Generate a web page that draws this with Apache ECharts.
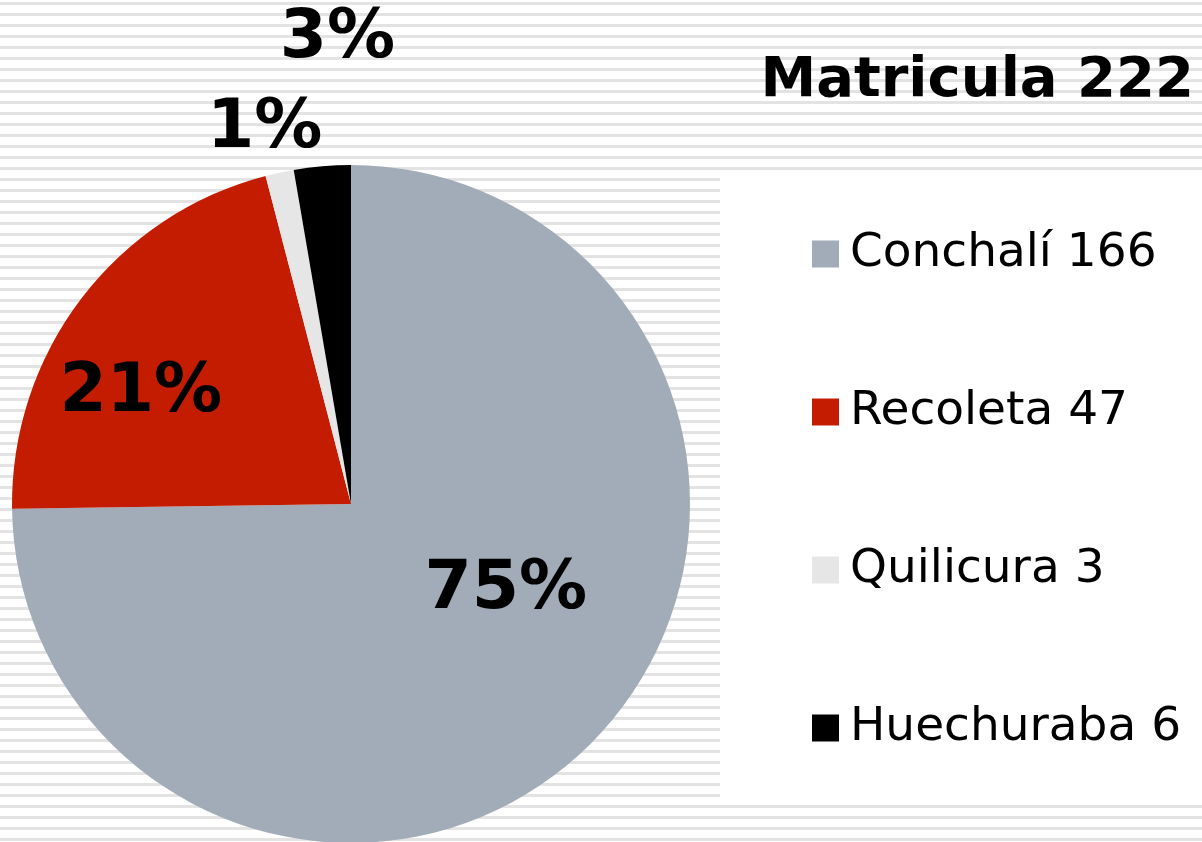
<!DOCTYPE html>
<html>
<head>
<meta charset="utf-8">
<title>Matricula 222</title>
<script src="https://cdn.jsdelivr.net/npm/echarts@6/dist/echarts.min.js"></script>
<style>
  html, body { margin: 0; padding: 0; background: #fff; }
  /* striped slide background */
  #chart {
    width: 1202px;
    height: 842px;
    background: repeating-linear-gradient(to bottom,
      #fff 0px, #fff 2px, #e3e3e3 2px, #e3e3e3 5px, #fff 5px, #fff 11px);
  }
</style>
</head>
<body>
<div id="chart"></div>
<script>
// ===== Data =====
const comunas  = ['Conchalí', 'Recoleta', 'Quilicura', 'Huechuraba'];
const alumnos  = [166, 47, 3, 6];
const colores  = ['#a1acb8', '#c41c00', '#e6e6e6', '#000000'];
const titulo   = 'Matricula 222';

// label nudges, to sit where the original put them
const labelOffsets = [[32, -35], [-73, -6], [-50, -206], [1, -293]];

const FONT = '"DejaVu Sans", Verdana, sans-serif';

const chart = echarts.init(document.getElementById('chart'), null, { renderer: 'canvas' });

const pieData = comunas.map((name, i) => ({
  name,
  value: alumnos[i],
  itemStyle: { color: colores[i] },
  label: { offset: labelOffsets[i] }
}));

chart.setOption({
  backgroundColor: 'transparent',
  animation: false,
  // white panel behind the legend
  graphic: [{
    type: 'rect',
    z: -10,
    shape: { x: 720, y: 174, width: 482, height: 628 },
    style: { fill: '#ffffff' },
    silent: true
  }],
  title: {
    text: titulo,
    right: 8,
    top: 53,
    padding: 0,
    textStyle: { fontFamily: FONT, fontSize: 56, fontWeight: 'bold', color: '#000' }
  },
  legend: {
    orient: 'vertical',
    left: 812,
    top: 226,
    itemWidth: 27,
    itemHeight: 27,
    itemGap: 102,
    icon: 'rect',
    padding: 0,
    selectedMode: false,
    formatter: name => name + ' ' + alumnos[comunas.indexOf(name)],
    textStyle: {
      fontFamily: FONT,
      fontSize: 47,
      lineHeight: 56,
      color: '#000',
      padding: [0, 0, 0, 6]
    }
  },
  series: [{
    type: 'pie',
    center: [351, 504],
    radius: 339,
    startAngle: 90,
    clockwise: true,
    percentPrecision: 0,
    avoidLabelOverlap: false,
    itemStyle: { borderWidth: 0 },
    emphasis: { disabled: true },
    label: {
      show: true,
      position: 'inside',
      formatter: '{d}%',
      fontFamily: FONT,
      fontSize: 68,
      fontWeight: 'bold',
      color: '#000'
    },
    labelLine: { show: false },
    data: pieData
  }]
});
</script>
</body>
</html>
